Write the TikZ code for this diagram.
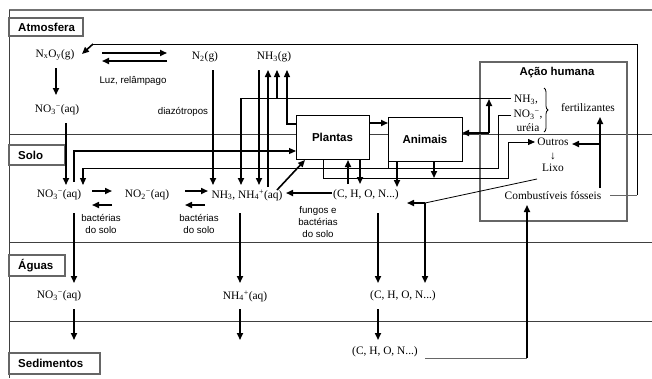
\documentclass[tikz,border=0pt]{standalone}
\usepackage{fontspec}
\setmainfont{Liberation Serif}
\setsansfont{Liberation Sans}
\usetikzlibrary{arrows.meta,decorations.pathreplacing}
\begin{document}
\begin{tikzpicture}[x=1pt,y=-1pt,
  thk/.style={line width=1.6pt},
  med/.style={line width=1.1pt},
  thn/.style={line width=0.8pt},
  tip/.style={-{Triangle[length=7pt,width=6pt]}},
  layer/.style={draw=black!75,line width=1pt},
  lblbox/.style={draw=black!60,line width=1.4pt,fill=white},
  lbl/.style={font=\sffamily\bfseries\fontsize{11.5}{13}\selectfont,anchor=base west,inner sep=0pt},
  chem/.style={font=\fontsize{11.4}{13}\selectfont,inner sep=1pt},
  note/.style={font=\sffamily\fontsize{9.7}{11.6}\selectfont,align=center,inner sep=0pt},
  box/.style={draw=black,line width=0.8pt,fill=white,font=\sffamily\bfseries\fontsize{11.5}{13}\selectfont}
]
\useasboundingbox (0,0) rectangle (652,378);
% frame and layers
\draw[draw=black!55,line width=1.3pt] (652,10) -- (9,10);
\draw[layer] (9,10) -- (9,378);
\draw[layer] (9,134) -- (652,134);
\draw[layer] (9,242) -- (652,242);
\draw[layer] (9,321) -- (652,321);
% layer labels
\draw[lblbox] (9,18) rectangle (83,36);
\node[lbl] (latm) at (18,31) {Atmosfera};
\draw[lblbox] (9,145) rectangle (65,165);
\node[lbl] (lsolo) at (18,159) {Solo};
\draw[lblbox] (9,255) rectangle (65,276);
\node[lbl] (laguas) at (18,269.5) {Águas};
\draw[lblbox] (9,353) rectangle (100,374);
\node[lbl] (lsed) at (18,367.5) {Sedimentos};
% human action box
\draw[draw=black!60,line width=1.3pt] (480,62) rectangle (627,221);
\node[font=\sffamily\bfseries\fontsize{11.4}{13}\selectfont] (ah) at (557,73) {Ação humana};
% organisms
\node[box,minimum width=73pt,minimum height=44pt] (plantas) at (332.5,137) {Plantas};
\node[box,minimum width=74pt,minimum height=44pt] (animais) at (425,139) {Animais};
% atmosphere texts
\node[chem] (nxoy) at (55,55) {N\textsubscript{x}O\textsubscript{y}(g)};
\node[chem] (n2) at (205,57) {N\textsubscript{2}(g)};
\node[chem] (nh3g) at (274,57) {NH\textsubscript{3}(g)};
\node[chem] (no3a) at (57,110) {NO\textsubscript{3}\textsuperscript{−}(aq)};
\node[note] (luz) at (133,81) {Luz, relâmpago};
\node[note] (diazo) at (183,112) {diazótropos};
% soil texts
\node[chem] (no3s) at (59,195) {NO\textsubscript{3}\textsuperscript{−}(aq)};
\node[chem] (no2s) at (147,195) {NO\textsubscript{2}\textsuperscript{−}(aq)};
\node[chem] (nh3s) at (247,195) {NH\textsubscript{3}, NH\textsubscript{4}\textsuperscript{+}(aq)};
\node[chem] (chons) at (366,195) {(C, H, O, N...)};
\node[note] (bact1) at (101,224) {bactérias\\do solo};
\node[note] (bact2) at (199,224) {bactérias\\do solo};
\node[note] (fungos) at (318,222) {fungos e\\bactérias\\do solo};
% water and sediment texts
\node[chem] (no3w) at (59,296) {NO\textsubscript{3}\textsuperscript{−}(aq)};
\node[chem] (nh4w) at (245,296) {NH\textsubscript{4}\textsuperscript{+}(aq)};
\node[chem] (chonw) at (403,296) {(C, H, O, N...)};
\node[chem] (chonsed) at (385,352) {(C, H, O, N...)};
% human action texts
\node[chem] (nh3f) at (526,100) {NH\textsubscript{3},};
\node[chem] (no3f) at (528,115) {NO\textsubscript{3}\textsuperscript{−},};
\node[chem] (ureia) at (528,128) {uréia};
\draw[thn,decorate,decoration={brace,amplitude=4pt}] (544,88) -- (544,132);
\node[chem] (fert) at (588,108) {fertilizantes};
\node[chem] (outros) at (553,142) {Outros};
\node[chem] (darr) at (553,156) {↓};
\node[chem] (lixo) at (553,168) {Lixo};
\node[chem] (comb) at (553,196) {Combustíveis fósseis};
% atmosphere connectors
\draw[thk,tip] (56,68) -- (56,95);
\draw[thk,tip] (102,53) -- (167,53);
\draw[thk,tip] (167,61) -- (102,61);
\draw[thn,black!60] (610,195) -- (637,195);
\draw[thn] (637,195) -- (637,44) -- (93,44);
\draw[thk,tip] (93,44) -- (82,54);
\draw[thk,tip] (66,123) -- (66,185);
\draw[thk,tip] (213,70) -- (213,185);
\draw[thk,tip] (259,70) -- (259,185);
\draw[thk,tip] (268,187) -- (268,70);
\draw[med,tip] (277,98) -- (277,70);
\draw[med,tip] (296,124) -- (287,124) -- (287,70);
% fertilizer connectors
\draw[thn] (511,98) -- (241,98);
\draw[thk,tip] (241,98) -- (241,185);
\draw[thk,tip] (489,133) -- (489,99);
\draw[thk,tip] (489,133) -- (462,133);
\draw[thn] (511,115) -- (498,115) -- (498,168) -- (83,168);
\draw[med,tip] (83,168) -- (83,185);
\draw[thn] (388,161) -- (388,168);
% plant and animal connectors
\draw[med,tip] (74,182) -- (74,151) -- (296,151);
\draw[thk,tip] (369,123) -- (388,123);
\draw[thn,tip] (323,159) -- (323,178) -- (508,178) -- (508,142) -- (535,142);
\draw[thk,tip] (434,161) -- (434,178);
\draw[thk,tip] (397,161) -- (397,187);
\draw[thk,tip] (348,184) -- (348,160);
\draw[thk,tip] (360,160) -- (360,184);
\draw[thk,tip] (332,193) -- (286,193);
\draw[thk,tip] (277,190) -- (305,160);
% soil double arrows
\draw[thk,tip] (92,191) -- (112,191);
\draw[thk,tip] (112,205) -- (92,205);
\draw[thk,tip] (185,191) -- (208,191);
\draw[thk,tip] (205,205) -- (185,205);
% soil to water
\draw[thk,tip] (74,213) -- (74,283);
\draw[thk,tip] (240,213) -- (240,283);
\draw[thk,tip] (378,213) -- (378,283);
\draw[thn] (537,179) -- (425,203);
\draw[thk,tip] (425,203) -- (407,203);
\draw[thk,tip] (425,203) -- (425,283);
% water to sediment
\draw[thk,tip] (74,309) -- (74,340);
\draw[thk,tip] (240,309) -- (240,340);
\draw[thk,tip] (378,309) -- (378,340);
\draw[thn,black!60] (425,358) -- (527,358);
\draw[thk,tip] (527,358) -- (527,205);
% fossil fuels
\draw[thk,tip] (600,188) -- (600,117);
\draw[thk,tip] (600,144) -- (572,144);
\end{tikzpicture}
\end{document}
